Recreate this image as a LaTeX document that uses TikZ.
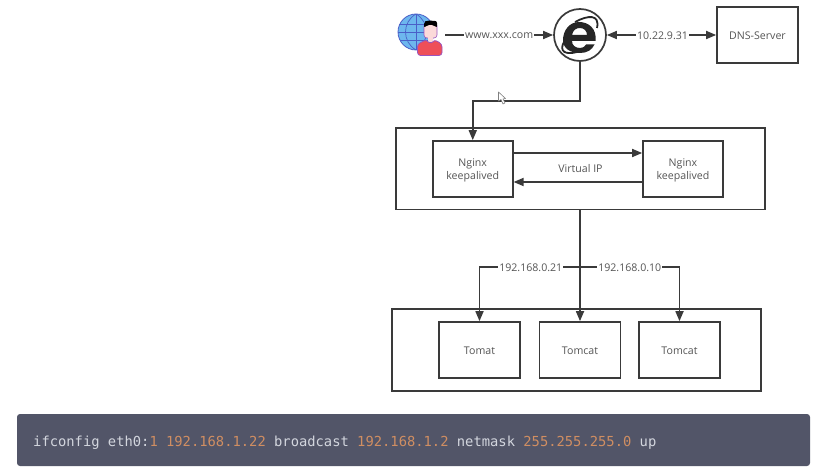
\documentclass[tikz,border=0pt]{standalone}
\usepackage{fontspec}
\setmainfont{Open Sans}
\newfontfamily\codefont{DejaVu Sans Mono}
\usetikzlibrary{arrows.meta}
\definecolor{ln}{HTML}{3A3A3A}
\definecolor{tx}{HTML}{555555}
\definecolor{codebg}{HTML}{525568}
\definecolor{codetx}{HTML}{D3D6DE}
\definecolor{codeor}{HTML}{D08E62}
\definecolor{globeblue}{HTML}{6DB7EE}
\definecolor{globeln}{HTML}{4A5FC8}
\definecolor{personred}{HTML}{EE4F58}
\definecolor{personln}{HTML}{9A55C0}
\definecolor{skin}{HTML}{FBD9D9}
\newcommand{\dn}[1]{\raisebox{-1pt}[\height][\depth]{#1}}
\tikzset{
  box/.style={draw=ln,line width=1.7pt,fill=white,text=tx,font=\fontsize{10.6}{13}\selectfont,align=center,inner sep=0pt,minimum width=#1,minimum height=56pt},
  box/.default=80pt,
  group/.style={draw=ln,line width=1.7pt,inner sep=0pt,minimum height=81.5pt,minimum width=369pt},
  conn/.style={draw=ln,line width=1.7pt,-{Triangle[length=10pt,width=8pt]}},
  both/.style={conn,{Triangle[length=10pt,width=8pt]}-{Triangle[length=10pt,width=8pt]}},
  lbl/.style={fill=white,text=tx,font=\fontsize{10.6}{12}\selectfont,inner sep=1pt},
  code/.style={font=\codefont\fontsize{13.8}{16}\selectfont,anchor=base west,inner sep=0pt}
}
\newcommand{\orng}[1]{\textcolor{codeor}{#1}}
\begin{document}
\begin{tikzpicture}[x=1pt,y=-1pt]
\useasboundingbox (0,0) rectangle (830,473);
% user icon
\node[circle,draw=globeln,line width=0.8pt,fill=globeblue,minimum size=36pt,inner sep=0pt] (globe) at (416,32) {};
\begin{scope}
\clip (416,32) circle [radius=18pt];
\draw[globeln,line width=0.7pt] (416,14) -- (416,50) (398,32) -- (434,32) (398,24) -- (434,24) (398,40) -- (434,40);
\draw[globeln,line width=0.7pt] (416,14) .. controls (402,22) and (402,42) .. (416,50) .. controls (430,42) and (430,22) .. (416,14);
\end{scope}
\fill[skin,draw=personln,line width=0.6pt,rounded corners=3pt] (424,23) rectangle (437,38);
\fill[skin] (428,37) rectangle (433,42);
\fill[personred,draw=personln,line width=0.8pt,rounded corners=3pt] (417.5,55.5) -- (417.5,44) -- (427,39.5) .. controls (429,43) and (432,43) .. (434,39.5) -- (442,44) -- (442,55.5) -- cycle;
\fill[black,rounded corners=2pt] (424,28) -- (424,22) -- (427,20.5) -- (437,21) -- (437,28) -- (434,25) -- (427,25) -- cycle;
\node[inner sep=0pt,minimum width=25pt,minimum height=36pt] (user) at (432.5,35) {};
% browser icon
\node[circle,draw=ln,line width=1.7pt,fill=white,minimum size=52pt,inner sep=0pt] (ie) at (580,35) {};
\fill[even odd rule,fill=black!85] (595.5,41) .. controls (597,28) and (588,22) .. (579,22) .. controls (569,22) and (563,31) .. (563,40) .. controls (563,49) and (571,53) .. (580,53) .. controls (587,53) and (592,50) .. (594.5,44.5) -- (586,44.5) .. controls (584,47.5) and (582,48) .. (580,48) .. controls (575,48) and (572,45) .. (572,41) -- cycle
  (572,35) .. controls (573,30) and (576,28) .. (580,28) .. controls (584,28) and (587,31) .. (587,35) -- cycle;
\draw[black!85,line width=1.8pt] (575,22) .. controls (588,15) and (600,14) .. (597,28);
\draw[black!85,line width=1.8pt] (564.5,41) .. controls (558,52) and (566,55) .. (577,52);
% DNS
\node[box=81pt] (dns) at (757.5,35) {\dn{DNS-Server}};
% Nginx group
\node[group] (ngroup) at (580.5,168.75) {};
\node[box] (nl) at (472.75,169) {\dn{Nginx}\\\dn{keepalived}};
\node[box] (nr) at (683,169) {\dn{Nginx}\\\dn{keepalived}};
\node[text=tx,font=\fontsize{10.6}{12}\selectfont,inner sep=1pt] (vip) at (580.5,168) {\dn{Virtual IP}};
% Tomcat group
\node[group] (tgroup) at (576.5,350) {};
\node[box=81pt] (t1) at (479.5,350) {\dn{Tomat}};
\node[box=81pt] (t2) at (580,350) {\dn{Tomcat}};
\node[box=81pt] (t3) at (679.5,350) {\dn{Tomcat}};
% connectors
\draw[conn] (user.east) -- node[lbl]{\dn{www.xxx.com}} (ie.west);
\draw[both] (ie.east) -- node[lbl,xshift=1pt]{\dn{10.22.9.31}} (dns.west);
\coordinate (bend) at (580,101);
\draw[conn] (ie.south) -- (bend) -| (nl.north);
\draw[conn] (nl.east |- 0,153) -- (nr.west |- 0,153);
\draw[conn] (nr.west |- 0,182) -- (nl.east |- 0,182);
\coordinate (fork) at (580,267);
\draw[conn] (ngroup.south -| t2.north) -- (t2.north);
\draw[conn] (fork) -| node[lbl,pos=0.245]{\dn{192.168.0.21}} (t1.north);
\draw[conn] (fork) -| node[lbl,pos=0.25]{\dn{192.168.0.10}} (t3.north);
% mouse pointer
\draw[fill=white,draw=gray,line width=0.6pt,line join=round] (498.5,92) -- (498.5,101) -- (501,99.5) -- (503,104) -- (505,103) -- (503,99) -- (505.5,98.5) -- cycle;
% code block
\node[fill=codebg,rounded corners=3pt,minimum width=793pt,minimum height=52pt,inner sep=0pt] (codebox) at (413.5,440) {};
\node[code,text=codetx] (codeline) at (33,446) {ifconfig eth0:\orng{1} \orng{192.168.1.22} broadcast \orng{192.168.1.2} netmask \orng{255.255.255.0} up};
\end{tikzpicture}
\end{document}
